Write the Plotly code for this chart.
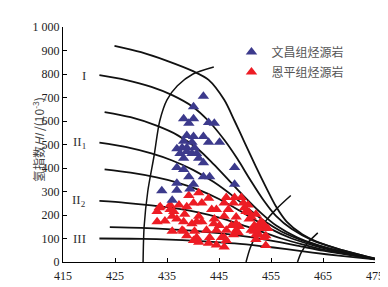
import plotly.graph_objects as go

# ---------------- data ----------------
x_ticks = [415, 425, 435, 445, 455, 465, 475]
y_ticks = [0, 100, 200, 300, 400, 500, 600, 700, 800, 900, 1000]
y_tick_labels = ["0", "100", "200", "300", "400", "500", "600", "700", "800", "900", "1 000"]

# evolution curves (Tmax, HI)
curve_1_tmax = [424.9, 430, 435, 440, 443, 446, 448, 450, 452, 454, 456, 458, 461, 464, 468, 475]
curve_1_hi = [920, 893, 856, 812, 775, 690, 600, 505, 410, 320, 235, 172, 118, 85, 55, 15]
curve_2_tmax = [422, 427, 432, 436, 440, 443, 446, 448.5, 451, 453.5, 456, 459, 463, 468, 475]
curve_2_hi = [795, 775, 745, 710, 660, 600, 520, 440, 350, 265, 195, 140, 92, 55, 14]
curve_3_tmax = [423, 428, 433, 437, 441, 444, 447, 450, 453, 456, 460, 464, 469, 475]
curve_3_hi = [638, 616, 580, 540, 480, 415, 345, 275, 210, 155, 105, 72, 42, 13]
curve_4_tmax = [422, 427, 432, 436, 440, 444, 448, 451, 454, 457, 461, 465, 470, 475]
curve_4_hi = [508, 490, 462, 432, 392, 340, 275, 220, 170, 130, 92, 64, 37, 12]
curve_5_tmax = [423, 428, 433, 437, 441, 445, 449, 452, 455, 459, 464, 469, 475]
curve_5_hi = [394, 380, 360, 338, 308, 268, 218, 178, 140, 100, 65, 38, 12]
curve_6_tmax = [422, 427, 432, 437, 441, 445, 449, 453, 457, 461, 466, 471, 475]
curve_6_hi = [260, 252, 241, 227, 211, 189, 161, 130, 100, 75, 48, 28, 12]
curve_7_tmax = [424, 430, 435, 440, 445, 450, 455, 460, 465, 470, 475]
curve_7_hi = [148, 145, 140, 133, 123, 109, 91, 70, 48, 30, 12]
curve_8_tmax = [422, 428, 433, 438, 443, 448, 453, 458, 463, 468, 475]
curve_8_hi = [100, 99, 97, 93, 87, 79, 68, 55, 40, 27, 11]

curve_labels = ["", "I", "", "II<sub>1</sub>", "", "II<sub>2</sub>", "", "III"]

# maturity isolines
iso_1_tmax = [430.4, 430.6, 431.3, 432.5, 433.6, 435, 437, 440, 444]
iso_1_hi = [0, 150, 300, 450, 600, 690, 750, 800, 830]
iso_2_tmax = [450.2, 451, 452.3, 454, 456, 458.8]
iso_2_hi = [0, 60, 120, 175, 225, 283]
iso_3_tmax = [460.1, 460.8, 462, 464]
iso_3_hi = [0, 40, 80, 124]

# samples
wenchang_tmax = [442.0, 440.1, 438.2, 440.1, 439.2, 443.0, 444.1, 438.8, 440.1, 442.0,
                 438.2, 439.8, 443.0, 445.1, 436.9, 437.9, 438.8, 440.3, 437.5, 438.8,
                 439.8, 440.7, 441.1, 438.2, 442.0, 448.0, 436.9, 438.2, 439.2, 442.0,
                 443.2, 436.9, 440.1, 434.0, 439.4, 448.0, 436.0, 436.9]
wenchang_hi = [705, 661, 610, 610, 590, 594, 590, 538, 534, 534,
               514, 510, 510, 510, 482, 486, 486, 486, 462, 470,
               462, 462, 442, 442, 422, 402, 402, 394, 363, 363,
               363, 335, 331, 303, 311, 331, 263, 305]

enping_tmax = [441.1, 439.2, 443.0, 446.4, 448.0, 449.3, 437.3, 438.8, 440.1, 441.7,
               446.0, 447.8, 433.5, 435.6, 443.6, 444.5, 446.8, 450.2, 452.1, 436.0,
               438.4, 441.1, 444.1, 446.0, 448.3, 450.8, 433.1, 434.6, 438.2, 439.8,
               441.7, 444.0, 445.1, 447.4, 448.9, 451.8, 453.7, 436.0, 437.9, 440.3,
               442.6, 444.5, 446.4, 448.3, 452.1, 438.8, 440.7, 443.2, 446.0, 441.1,
               443.0, 444.5, 446.0, 433.7, 433.1, 435.6, 436.3, 436.9, 438.2, 440.7,
               440.1, 445.5, 446.4, 447.8, 452.7, 451.2, 449.9, 450.8, 449.7, 448.3,
               448.7, 452.5, 453.1, 454.0, 452.1, 454.0, 451.8, 454.0, 450.6, 451.2,
               453.5, 452.7, 454.4, 453.7, 452.1]
enping_hi = [295, 283, 271, 275, 275, 275, 243, 235, 251, 251,
             251, 251, 231, 223, 223, 223, 223, 215, 203, 195,
             203, 195, 183, 195, 191, 183, 171, 175, 171, 163,
             171, 163, 155, 155, 151, 155, 155, 131, 135, 131,
             135, 135, 135, 135, 135, 112, 104, 104, 104, 84,
             80, 72, 64, 235, 215, 243, 215, 183, 131, 171,
             92, 104, 92, 116, 116, 135, 231, 211, 251, 163,
             124, 151, 171, 143, 116, 112, 131, 70, 243, 191,
             163, 143, 143, 104, 96]

# ---------------- figure ----------------
fig = go.Figure()

curves = [
    (curve_1_tmax, curve_1_hi), (curve_2_tmax, curve_2_hi),
    (curve_3_tmax, curve_3_hi), (curve_4_tmax, curve_4_hi),
    (curve_5_tmax, curve_5_hi), (curve_6_tmax, curve_6_hi),
    (curve_7_tmax, curve_7_hi), (curve_8_tmax, curve_8_hi),
]
for (tx, hy), lab in zip(curves, curve_labels):
    fig.add_trace(go.Scatter(x=tx, y=hy, mode="lines",
                             line=dict(color="#111111", width=1.8, shape="spline", smoothing=0.8),
                             showlegend=False, hoverinfo="skip"))
    if lab:
        fig.add_annotation(x=tx[0], y=hy[0], text=lab, showarrow=False,
                           xanchor="right", yanchor="middle", xshift=-11,
                           font=dict(family="Liberation Serif", size=13, color="#333333"))

for tx, hy in [(iso_1_tmax, iso_1_hi), (iso_2_tmax, iso_2_hi), (iso_3_tmax, iso_3_hi)]:
    fig.add_trace(go.Scatter(x=tx, y=hy, mode="lines",
                             line=dict(color="#111111", width=1.5, shape="spline", smoothing=0.8),
                             showlegend=False, hoverinfo="skip"))

fig.add_trace(go.Scatter(x=enping_tmax, y=enping_hi, mode="markers", name="恩平组烃源岩",
                         legendrank=2, legendgroup="b",
                         marker=dict(symbol="triangle-up", size=10, color="#ed1c24", line=dict(width=0))))
fig.add_trace(go.Scatter(x=wenchang_tmax, y=wenchang_hi, mode="markers", name="文昌组烃源岩",
                         legendrank=1, legendgroup="a",
                         marker=dict(symbol="triangle-up", size=10, color="#3c3a8c", line=dict(width=0))))

fig.add_annotation(x=-0.115, y=0.52, xref="paper", yref="paper", textangle=-90,
                   text="氢指数<i>HI</i> /(10<sup>-3</sup>)", showarrow=False,
                   font=dict(family="Noto Sans CJK SC", size=12, color="#444444"))

axis_common = dict(showline=True, linecolor="black", linewidth=1, ticks="inside",
                   ticklen=4, tickcolor="black", showgrid=False, zeroline=False,
                   tickfont=dict(family="Liberation Serif", size=12, color="#222222"))

fig.update_xaxes(range=[415, 475], tickvals=x_ticks, ticklabelstandoff=3, **axis_common)
fig.update_yaxes(range=[0, 1000], tickvals=y_ticks, ticktext=y_tick_labels, **axis_common)

fig.update_layout(
    width=388, height=287,
    margin=dict(l=55, r=18, t=15, b=21),
    plot_bgcolor="white", paper_bgcolor="white",
    legend=dict(x=0.54, y=0.955, xanchor="left", yanchor="top",
                bgcolor="rgba(0,0,0,0)", tracegroupgap=1, itemwidth=30,
                font=dict(family="Noto Sans CJK SC", size=12, color="#555555")),
)

fig.write_html("out.html")
